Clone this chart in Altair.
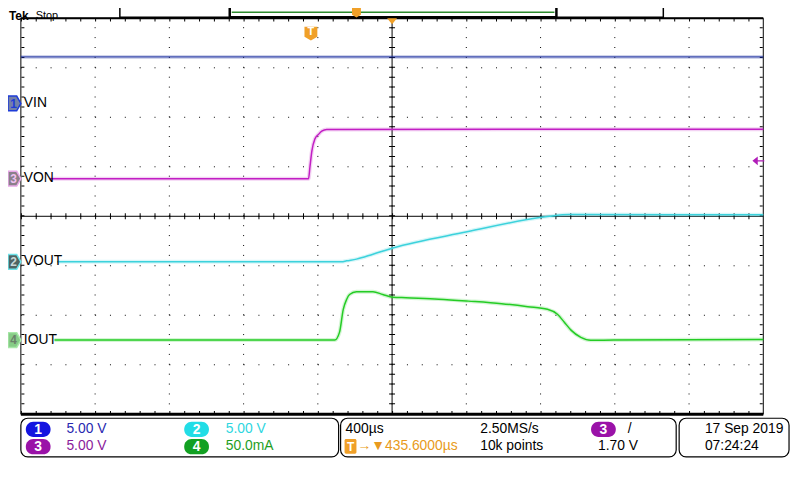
import altair as alt
import pandas as pd

OFF = 8  # page margin: reference pixel -> chart pixel

# ---------------- data (time in µs, values in channel units) ----------------
vin_t = [-2000, 2000]
vin_v = [4.7, 4.7]

von_t = [-1845, -450, -443, -432, -416, -395, -379, -352, 2000]
von_v = [0, 0, 1.1, 2.8, 4.0, 4.5, 4.8, 4.97, 5.0]

vout_t = [-1803, -272, -245, -192, -103, 4, 404, 795, 848, 955, 2000]
vout_v = [0, 0, 0.1, 0.27, 0.77, 1.4, 3.03, 4.47, 4.6, 4.77, 4.75]

iout_t = [-1819, -309, -283, -263, -245, -229, -192, -103, -50, 4, 75, 251,
          411, 590, 731, 837, 891, 928, 964, 1017, 1070, 1195, 2000]
iout_v = [0, 0, 8, 31, 41, 46, 48.7, 48.7, 46, 43.3, 42.7, 41.3,
          39.3, 36.7, 33.7, 31, 26, 18, 10, 2.7, -0.3, 0, 0.5]

ch_names = ["VIN", "VON", "VOUT", "IOUT"]
ch_ground = [2.28, 0.76, -0.92, -2.5]      # ground marker, divisions
ch_perdiv = [5.0, 5.0, 5.0, 50.0]           # V/div, V/div, V/div, mA/div
ch_color = ["#14289C", "#C21EC4", "#3CD2DC", "#24CC24"]
ch_width = [1.0, 1.5, 1.5, 1.5]
ch_series = [(vin_t, vin_v), (von_t, von_v), (vout_t, vout_v), (iout_t, iout_v)]

rows = []
for name, g, s, w, (ts, vs) in zip(ch_names, ch_ground, ch_perdiv, ch_width, ch_series):
    for t, v in zip(ts, vs):
        rows.append({"ch": name, "t": t, "div": g + v / s, "w": w})
traces = pd.DataFrame(rows)

x_domain = [-2000, 2000]   # 400 µs/div, 10 div
y_domain = [-4, 4]         # 8 div
div_t = [-1600, -1200, -800, -400, 0, 400, 800, 1200, 1600]
div_y = [-3, -2, -1, 0, 1, 2, 3]

xs = alt.Scale(domain=x_domain, range=[21 - OFF, 771 - OFF], nice=False, zero=False)
ys = alt.Scale(domain=y_domain, range=[416 - OFF, 16 - OFF], nice=False, zero=False)


def X(f):
    return alt.X(f, type="quantitative", scale=xs, axis=None)


def Y(f):
    return alt.Y(f, type="quantitative", scale=ys, axis=None)


def PX(f):
    return alt.X(f, type="quantitative", scale=None, axis=None)


def PY(f):
    return alt.Y(f, type="quantitative", scale=None, axis=None)


layers = []

# ---------------- graticule ----------------
vgrid = pd.DataFrame({"t": div_t, "y0": -4, "y1": 4})
layers.append(alt.Chart(vgrid).mark_rule(color="black", strokeWidth=1, strokeDash=[1, 9])
              .encode(x=X("t"), y=Y("y0"), y2="y1"))
hgrid = pd.DataFrame({"d": div_y, "t0": -2000, "t1": 2000})
layers.append(alt.Chart(hgrid).mark_rule(color="black", strokeWidth=1, strokeDash=[1, 14])
              .encode(y=Y("d"), x=X("t0"), x2="t1"))

# center axes with minor ticks
cx = pd.DataFrame({"t": [0], "y0": [-4], "y1": [4]})
cy = pd.DataFrame({"d": [0], "t0": [-2000], "t1": [2000]})
layers.append(alt.Chart(cx).mark_rule(color="black", strokeWidth=1).encode(x=X("t"), y=Y("y0"), y2="y1"))
layers.append(alt.Chart(cx).mark_rule(color="black", strokeWidth=6, strokeDash=[1, 9])
              .encode(x=X("t"), y=Y("y0"), y2="y1"))
layers.append(alt.Chart(cy).mark_rule(color="black", strokeWidth=1).encode(y=Y("d"), x=X("t0"), x2="t1"))
layers.append(alt.Chart(cy).mark_rule(color="black", strokeWidth=6, strokeDash=[1, 14])
              .encode(y=Y("d"), x=X("t0"), x2="t1"))

# edge ticks
etop = pd.DataFrame({"d": [3.965, -3.965], "t0": -2000, "t1": 2000})
layers.append(alt.Chart(etop).mark_rule(color="black", strokeWidth=3, strokeDash=[1, 14])
              .encode(y=Y("d"), x=X("t0"), x2="t1"))
eside = pd.DataFrame({"t": [-1989, 1989], "y0": -4, "y1": 4})
layers.append(alt.Chart(eside).mark_rule(color="black", strokeWidth=3, strokeDash=[1, 9])
              .encode(x=X("t"), y=Y("y0"), y2="y1"))

# frame
frame = pd.DataFrame({"t0": [-2000], "t1": [2000], "y0": [-4], "y1": [4]})
layers.append(alt.Chart(frame).mark_rect(filled=False, stroke="black", strokeWidth=1)
              .encode(x=X("t0"), x2="t1", y=Y("y0"), y2="y1"))
layers.append(alt.Chart(pd.DataFrame({"d": [-4], "t0": [-2000], "t1": [2000]}))
              .mark_rule(color="black", strokeWidth=3).encode(y=Y("d"), x=X("t0"), x2="t1"))
layers.append(alt.Chart(pd.DataFrame({"d": [4], "t0": [-2000], "t1": [2000]}))
              .mark_rule(color="black", strokeWidth=2).encode(y=Y("d"), x=X("t0"), x2="t1"))

# ---------------- traces ----------------
cscale = alt.Scale(domain=ch_names, range=ch_color)
layers.append(alt.Chart(traces).mark_line(strokeWidth=4, opacity=0.2, interpolate="monotone")
              .encode(x=X("t"), y=Y("div"), color=alt.Color("ch:N", scale=cscale, legend=None),
                      detail="ch:N"))
layers.append(alt.Chart(traces).mark_line(interpolate="monotone")
              .encode(x=X("t"), y=Y("div"), color=alt.Color("ch:N", scale=cscale, legend=None),
                      strokeWidth=alt.StrokeWidth("w:Q", scale=None), detail="ch:N"))

# ---------------- decorations (reference pixel positions) ----------------
# panels
panels = pd.DataFrame({
    "x0": [21, 344, 686], "x1": [342, 683, 797],
    "y0": [420, 420, 420], "y1": [459, 459, 459]})
for c in ["x0", "x1", "y0", "y1"]:
    panels[c] = panels[c] - OFF
layers.append(alt.Chart(panels).mark_rect(fill="white", stroke="black", strokeWidth=1.2, cornerRadius=7)
              .encode(x=PX("x0"), x2="x1", y=PY("y0"), y2="y1"))

# top record bar
bar = pd.DataFrame({"x0": [121, 232], "x1": [670, 562], "y0": [0, 0], "y1": [15, 15], "w": [1.5, 2.5]})
for c in ["x0", "x1", "y0", "y1"]:
    bar[c] = bar[c] - OFF
layers.append(alt.Chart(bar).mark_rect(fill="white", stroke="black")
              .encode(x=PX("x0"), x2="x1", y=PY("y0"), y2="y1",
                      strokeWidth=alt.StrokeWidth("w:Q", scale=None)))
greenline = pd.DataFrame({"x0": [234 - OFF], "x1": [560 - OFF], "y": [2]})
layers.append(alt.Chart(greenline).mark_rule(color="#2E8B2E", strokeWidth=1.5)
              .encode(x=PX("x0"), x2="x1", y=PY("y")))

# badges (pills)
pills = pd.DataFrame({
    "x0": [26, 186, 26, 186, 597], "x1": [51, 211, 51, 211, 622],
    "y0": [423.5, 423.5, 441, 441, 423.5], "y1": [439, 439, 456.5, 456.5, 439],
    "fill": ["#1414E0", "#22DDE6", "#9A12A8", "#12A022", "#9A12A8"]})
for c in ["x0", "x1", "y0", "y1"]:
    pills[c] = pills[c] - OFF
layers.append(alt.Chart(pills).mark_rect(cornerRadius=7.5)
              .encode(x=PX("x0"), x2="x1", y=PY("y0"), y2="y1", fill=alt.Fill("fill:N", scale=None)))

# orange T box in panel
tbox = pd.DataFrame({"x0": [348 - OFF], "x1": [360 - OFF], "y0": [441 - OFF], "y1": [456 - OFF]})
layers.append(alt.Chart(tbox).mark_rect(fill="#F0A028", cornerRadius=1.5)
              .encode(x=PX("x0"), x2="x1", y=PY("y0"), y2="y1"))

# channel markers
PENT = "M -1 -1.15 L 0.35 -1.15 L 1 0 L 0.35 1.15 L -1 1.15 Z"
markers = pd.DataFrame({
    "x": [6.5, 6.5, 6.5, 6.5],
    "y": [102 - OFF, 178 - OFF, 262 - OFF, 341 - OFF],
    "fill": ["#7480A8", "#8A808A", "#4E6464", "#86CC86"],
    "stroke": ["#1E3CD8", "#E8A8E8", "#6EE4EA", "#A8E8A8"]})
layers.append(alt.Chart(markers).mark_point(shape=PENT, filled=True, size=169, strokeWidth=1.5, opacity=1)
              .encode(x=PX("x"), y=PY("y"), fill=alt.Fill("fill:N", scale=None),
                      stroke=alt.Stroke("stroke:N", scale=None)))

# trigger markers (orange)
TSHAPE = "M -1 -1 L 1 -1 L 1 0.55 L 0 1.15 L -1 0.55 Z"
tmark = pd.DataFrame({"x": [314 - OFF, 360 - OFF], "y": [31 - OFF, 10 - OFF], "s": [169, 81]})
layers.append(alt.Chart(tmark).mark_point(shape=TSHAPE, filled=True, fill="#F0A028", opacity=1, strokeWidth=0)
              .encode(x=PX("x"), y=PY("y"), size=alt.Size("s:Q", scale=None)))
TRI = "M -1 -0.6 L 1 -0.6 L 0 0.6 Z"
tri = pd.DataFrame({"x": [396 - OFF], "y": [19 - OFF]})
layers.append(alt.Chart(tri).mark_point(shape=TRI, filled=True, fill="#F0A028", size=100, opacity=1, strokeWidth=0)
              .encode(x=PX("x"), y=PY("y")))
ARROW = "M -1 0 L -0.1 -0.75 L -0.1 -0.12 L 1 -0.12 L 1 0.12 L -0.1 0.12 L -0.1 0.75 Z"
arr = pd.DataFrame({"x": [766 - OFF], "y": [160 - OFF]})
layers.append(alt.Chart(arr).mark_point(shape=ARROW, filled=True, fill="#B01CB8", size=144, opacity=1, strokeWidth=0)
              .encode(x=PX("x"), y=PY("y")))

# left-aligned texts
FONT = "Liberation Sans"
texts = pd.DataFrame([
    ("VIN", 24, 102, "#000000", 14),
    ("VON", 24, 177.5, "#000000", 14),
    ("VOUT", 24, 261.5, "#000000", 14),
    ("IOUT", 24, 341.5, "#000000", 14),
    ("Stop", 36, 13.5, "#000000", 11),
    ("5.00 V", 67, 431, "#2828B0", 14),
    ("5.00 V", 228, 431, "#2ED6E0", 14),
    ("5.00 V", 67, 448.5, "#8B1A9B", 14),
    ("50.0mA", 228, 448.5, "#1E9E1E", 14),
    ("400µs", 349, 431, "#000000", 14),
    ("→▼435.6000µs", 361, 448.5, "#E89A20", 14),
    ("2.50MS/s", 485, 431, "#000000", 14),
    ("10k points", 485, 448.5, "#000000", 14),
    ("/", 634, 431, "#000000", 14),
    ("1.70 V", 604, 448.5, "#000000", 14),
    ("17 Sep  2019", 712, 431, "#000000", 14),
    ("07:24:24", 712, 448.5, "#000000", 14),
], columns=["text", "x", "y", "color", "fs"])
texts["x"] = texts["x"] - OFF
texts["y"] = texts["y"] - OFF
layers.append(alt.Chart(texts).mark_text(align="left", baseline="middle", font=FONT)
              .encode(x=PX("x"), y=PY("y"), text="text:N",
                      color=alt.Color("color:N", scale=None), size=alt.Size("fs:Q", scale=None)))

# "Tek" logo
tek = pd.DataFrame({"text": ["Tek"], "x": [1], "y": [13.5 - OFF]})
layers.append(alt.Chart(tek).mark_text(align="left", baseline="middle", font=FONT, fontWeight="bold",
                                       fontSize=12, color="black")
              .encode(x=PX("x"), y=PY("y"), text="text:N"))

# centered numbers / letters
nums = pd.DataFrame([
    ("1", 38.5, 431.5, "#FFFFFF", 14),
    ("2", 198.5, 431.5, "#FFFFFF", 14),
    ("3", 38.5, 449, "#FFFFFF", 14),
    ("4", 198.5, 449, "#FFFFFF", 14),
    ("3", 609.5, 431.5, "#FFFFFF", 14),
    ("T", 354, 449, "#FFFFFF", 12),
    ("T", 314, 30, "#FFFFFF", 11),
    ("1", 13.5, 102.5, "#1E3CD8", 12),
    ("3", 13.5, 178.5, "#F0C0F0", 12),
    ("2", 13.5, 262.5, "#C8D8D8", 12),
    ("4", 13.5, 341.5, "#6A806A", 12),
], columns=["text", "x", "y", "color", "fs"])
nums["x"] = nums["x"] - OFF
nums["y"] = nums["y"] - OFF
layers.append(alt.Chart(nums).mark_text(align="center", baseline="middle", font=FONT, fontWeight="bold")
              .encode(x=PX("x"), y=PY("y"), text="text:N",
                      color=alt.Color("color:N", scale=None), size=alt.Size("fs:Q", scale=None)))

chart = (alt.layer(*layers)
         .properties(width=792, height=472, padding=0, background="white",
                     autosize=alt.AutoSizeParams(type="none"))
         .configure_view(stroke=None))

chart.save("out.html", embed_options={"renderer": "svg", "actions": False})
